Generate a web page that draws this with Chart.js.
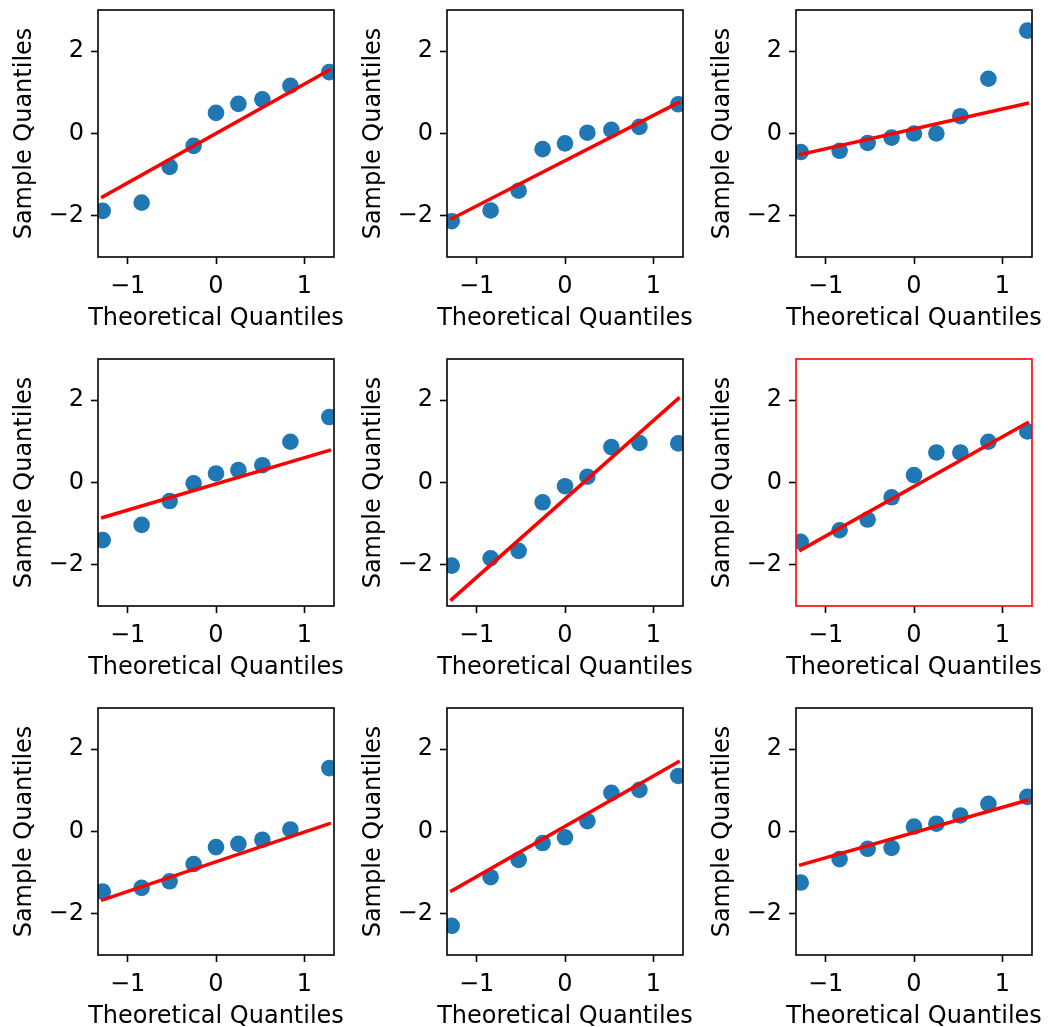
<!DOCTYPE html>
<html lang="en">
<head>
  <meta charset="UTF-8" />
  <title>Q-Q plots</title>
  <style>
    body {
      margin: 0;
      background: #fff;
      width: 1048px;
      height: 1027px;
      overflow: hidden;
      position: relative;
      font-family: 'DejaVu Sans';
    }

    canvas {
      position: absolute;
    }

    #warm {
      position: absolute;
      left: -500px;
      top: 0;
      font: 24px 'DejaVu Sans';
    }
  </style>
</head>
<body>
  <span id="warm">Theoretical Quantiles</span>
  <script src="https://cdn.jsdelivr.net/npm/chart.js"></script>
  <script>
    // theoretical normal quantiles for 9 points
    const quantiles = [-1.2816, -0.8416, -0.5244, -0.2533, 0, 0.2533, 0.5244, 0.8416, 1.2816];

    // sample quantiles (row by row)
    const sample1 = [-1.88, -1.68, -0.81, -0.30, 0.50, 0.72, 0.83, 1.16, 1.49];
    const sample2 = [-2.13, -1.87, -1.39, -0.38, -0.24, 0.02, 0.09, 0.16, 0.71];
    const sample3 = [-0.45, -0.42, -0.23, -0.10, 0.00, 0.00, 0.42, 1.33, 2.50];
    const sample4 = [-1.40, -1.03, -0.45, -0.02, 0.22, 0.30, 0.42, 0.99, 1.59];
    const sample5 = [-2.02, -1.84, -1.66, -0.48, -0.09, 0.14, 0.86, 0.96, 0.95];
    const sample6 = [-1.44, -1.16, -0.90, -0.36, 0.18, 0.73, 0.73, 0.99, 1.24];
    const sample7 = [-1.46, -1.37, -1.21, -0.79, -0.38, -0.30, -0.20, 0.05, 1.54];
    const sample8 = [-2.29, -1.11, -0.69, -0.28, -0.14, 0.25, 0.94, 1.01, 1.35];
    const sample9 = [-1.24, -0.67, -0.42, -0.40, 0.12, 0.19, 0.39, 0.67, 0.84];

    // reference line value at the lowest / highest theoretical quantile
    const fitLow = [-1.54, -2.07, -0.51, -0.85, -2.84, -1.64, -1.66, -1.44, -0.81];
    const fitHigh = [1.54, 0.75, 0.73, 0.78, 2.04, 1.45, 0.19, 1.69, 0.76];

    const xTicks = [-1, 0, 1];
    const yTicks = [-2, 0, 2];
    const xLabel = 'Theoretical Quantiles';
    const yLabel = 'Sample Quantiles';

    const samples = [sample1, sample2, sample3, sample4, sample5, sample6, sample7, sample8, sample9];
    const highlighted = 5; // panel with the red frame

    const FONT = { family: "'DejaVu Sans', sans-serif", size: 24 };
    const fmt = v => String(v).replace('-', '\u2212');

    // full box round the plot area (black, or red for the highlighted one)
    const framePlugin = {
      id: 'frame',
      afterDatasetsDraw(chart, args, opts) {
        const { ctx, chartArea: a } = chart;
        ctx.save();
        ctx.strokeStyle = opts.color;
        ctx.lineWidth = 1.6;
        ctx.strokeRect(a.left, a.top, a.right - a.left, a.bottom - a.top);
        ctx.restore();
      }
    };

    // axis titles drawn by hand so they are not squeezed to the scale width
    const titlePlugin = {
      id: 'axisTitles',
      afterDraw(chart) {
        const { ctx, chartArea: a } = chart;
        ctx.save();
        ctx.font = "24px 'DejaVu Sans', sans-serif";
        ctx.fillStyle = '#000';
        ctx.textAlign = 'center';
        ctx.textBaseline = 'alphabetic';
        ctx.fillText(xLabel, (a.left + a.right) / 2, 325);
        ctx.translate(31, (a.top + a.bottom) / 2);
        ctx.rotate(-Math.PI / 2);
        ctx.fillText(yLabel, 0, 0);
        ctx.restore();
      }
    };

    const tickGrid = {
      display: true,
      drawOnChartArea: false,
      drawTicks: true,
      tickLength: 7,
      tickWidth: 1.6,
      tickColor: '#000'
    };

    function drawAll() {
      samples.forEach((sample, i) => {
        const canvas = document.createElement('canvas');
        canvas.width = 349;
        canvas.height = 335;
        canvas.style.left = (i % 3) * 349 + 'px';
        canvas.style.top = Math.floor(i / 3) * 349 + 'px';
        document.body.appendChild(canvas);

        const last = quantiles.length - 1;

        new Chart(canvas.getContext('2d'), {
          type: 'scatter',
          data: {
            datasets: [
              {
                type: 'line',
                data: [
                  { x: quantiles[0], y: fitLow[i] },
                  { x: quantiles[last], y: fitHigh[i] }
                ],
                borderColor: '#ff0000',
                borderWidth: 3.5,
                borderCapStyle: 'square',
                pointRadius: 0,
                fill: false,
                clip: 0
              },
              {
                data: quantiles.map((q, k) => ({ x: q, y: sample[k] })),
                backgroundColor: '#1f77b4',
                borderWidth: 0,
                pointRadius: 8.3,
                pointHoverRadius: 8.3,
                clip: 0
              }
            ]
          },
          options: {
            responsive: false,
            animation: false,
            devicePixelRatio: 1,
            layout: { padding: { top: 10, right: 15, left: 0, bottom: 0 } },
            plugins: {
              legend: { display: false },
              tooltip: { enabled: false },
              frame: { color: i === highlighted ? '#ff0000' : '#000' }
            },
            scales: {
              x: {
                type: 'linear',
                min: -1.335,
                max: 1.335,
                afterBuildTicks: s => { s.ticks = xTicks.map(v => ({ value: v })); },
                afterFit: s => {
                  s.height = 78;
                  s.paddingLeft = 0;
                  s.paddingRight = 0;
                },
                grid: tickGrid,
                border: { display: false },
                ticks: { font: FONT, color: '#000', padding: 8, maxRotation: 0, callback: fmt },
                title: { display: false }
              },
              y: {
                type: 'linear',
                min: -3,
                max: 3,
                afterBuildTicks: s => { s.ticks = yTicks.map(v => ({ value: v })); },
                afterFit: s => {
                  s.width = 98;
                  s.paddingTop = 0;
                  s.paddingBottom = 0;
                },
                grid: tickGrid,
                border: { display: false },
                ticks: { font: FONT, color: '#000', padding: 7, callback: fmt },
                title: { display: false }
              }
            }
          },
          plugins: [framePlugin, titlePlugin]
        });
      });
    }

    if (document.fonts && document.fonts.load) {
      document.fonts.load("24px 'DejaVu Sans'").then(drawAll, drawAll);
    } else {
      drawAll();
    }
  </script>
</body>
</html>
